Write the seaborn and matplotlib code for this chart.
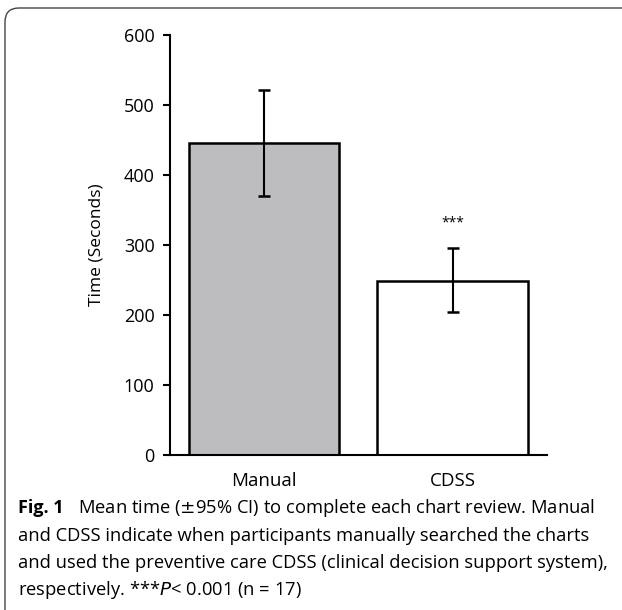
import pandas as pd
import matplotlib.pyplot as plt
import seaborn as sns
from matplotlib.patches import FancyBboxPatch
from matplotlib.transforms import IdentityTransform

# Données
groupes = ['Manual', 'CDSS']
moyennes = [445, 249]
ic_bas = [370, 204]
ic_haut = [521, 295]
couleurs = ['#bcbdc0', '#ffffff']

df = pd.DataFrame({'groupe': groupes, 'temps': moyennes})

sns.set_style('white')
plt.rcParams['font.family'] = ['Open Sans', 'DejaVu Sans']
plt.rcParams['text.color'] = 'black'

fig = plt.figure(figsize=(6.22, 6.10), dpi=100)
ax = fig.add_axes([0.273, 0.254, 0.606, 0.689])

sns.barplot(data=df, x='groupe', y='temps', hue='groupe', palette=couleurs,
            width=0.8, edgecolor='black', linewidth=1.8, errorbar=None,
            legend=False, ax=ax)

err = [[m - b for m, b in zip(moyennes, ic_bas)],
       [h - m for m, h in zip(moyennes, ic_haut)]]
ax.errorbar(range(len(groupes)), moyennes, yerr=err, fmt='none',
            ecolor='black', elinewidth=1.5, capsize=4, capthick=1.8)

ax.text(1, ic_haut[1] + 25, '***', ha='center', va='bottom', fontsize=10)

ax.set_xlim(-0.5, 1.5)
ax.set_ylim(0, 600)
ax.set_yticks(range(0, 601, 100))
ax.set_xlabel('')
ax.set_ylabel('Time (Seconds)', fontsize=12.5, labelpad=14, color='black')
ax.tick_params(axis='y', direction='out', length=5, width=1.5, labelsize=13,
               left=True, pad=6, colors='black')
ax.tick_params(axis='x', length=0, labelsize=13.5, pad=12, colors='black')
sns.despine(ax=ax)
for s in ['left', 'bottom']:
    ax.spines[s].set_color('black')
    ax.spines[s].set_linewidth(1.5)

# Légende de la figure
fig.text(0.029, 0.167, 'Fig. 1', fontsize=13, fontweight='bold', va='center')
fig.text(0.126, 0.167, r'Mean time ($\pm$95% CI) to complete each chart review. Manual',
         fontsize=13.2, va='center')
fig.text(0.029, 0.122, 'and CDSS indicate when participants manually searched the charts',
         fontsize=13.2, va='center')
fig.text(0.029, 0.077, 'and used the preventive care CDSS (clinical decision support system),',
         fontsize=13.2, va='center')
fig.text(0.029, 0.033, 'respectively. ***$P$< 0.001 (n = 17)', fontsize=13.2, va='center')

# Cadre arrondi
cadre = FancyBboxPatch((5, -20), 650, 622, boxstyle='round,pad=0,rounding_size=14',
                       transform=IdentityTransform(), fill=False,
                       edgecolor='#444444', linewidth=1.0)
fig.patches.append(cadre)

fig.savefig('out.png', dpi=100)
plt.close()
